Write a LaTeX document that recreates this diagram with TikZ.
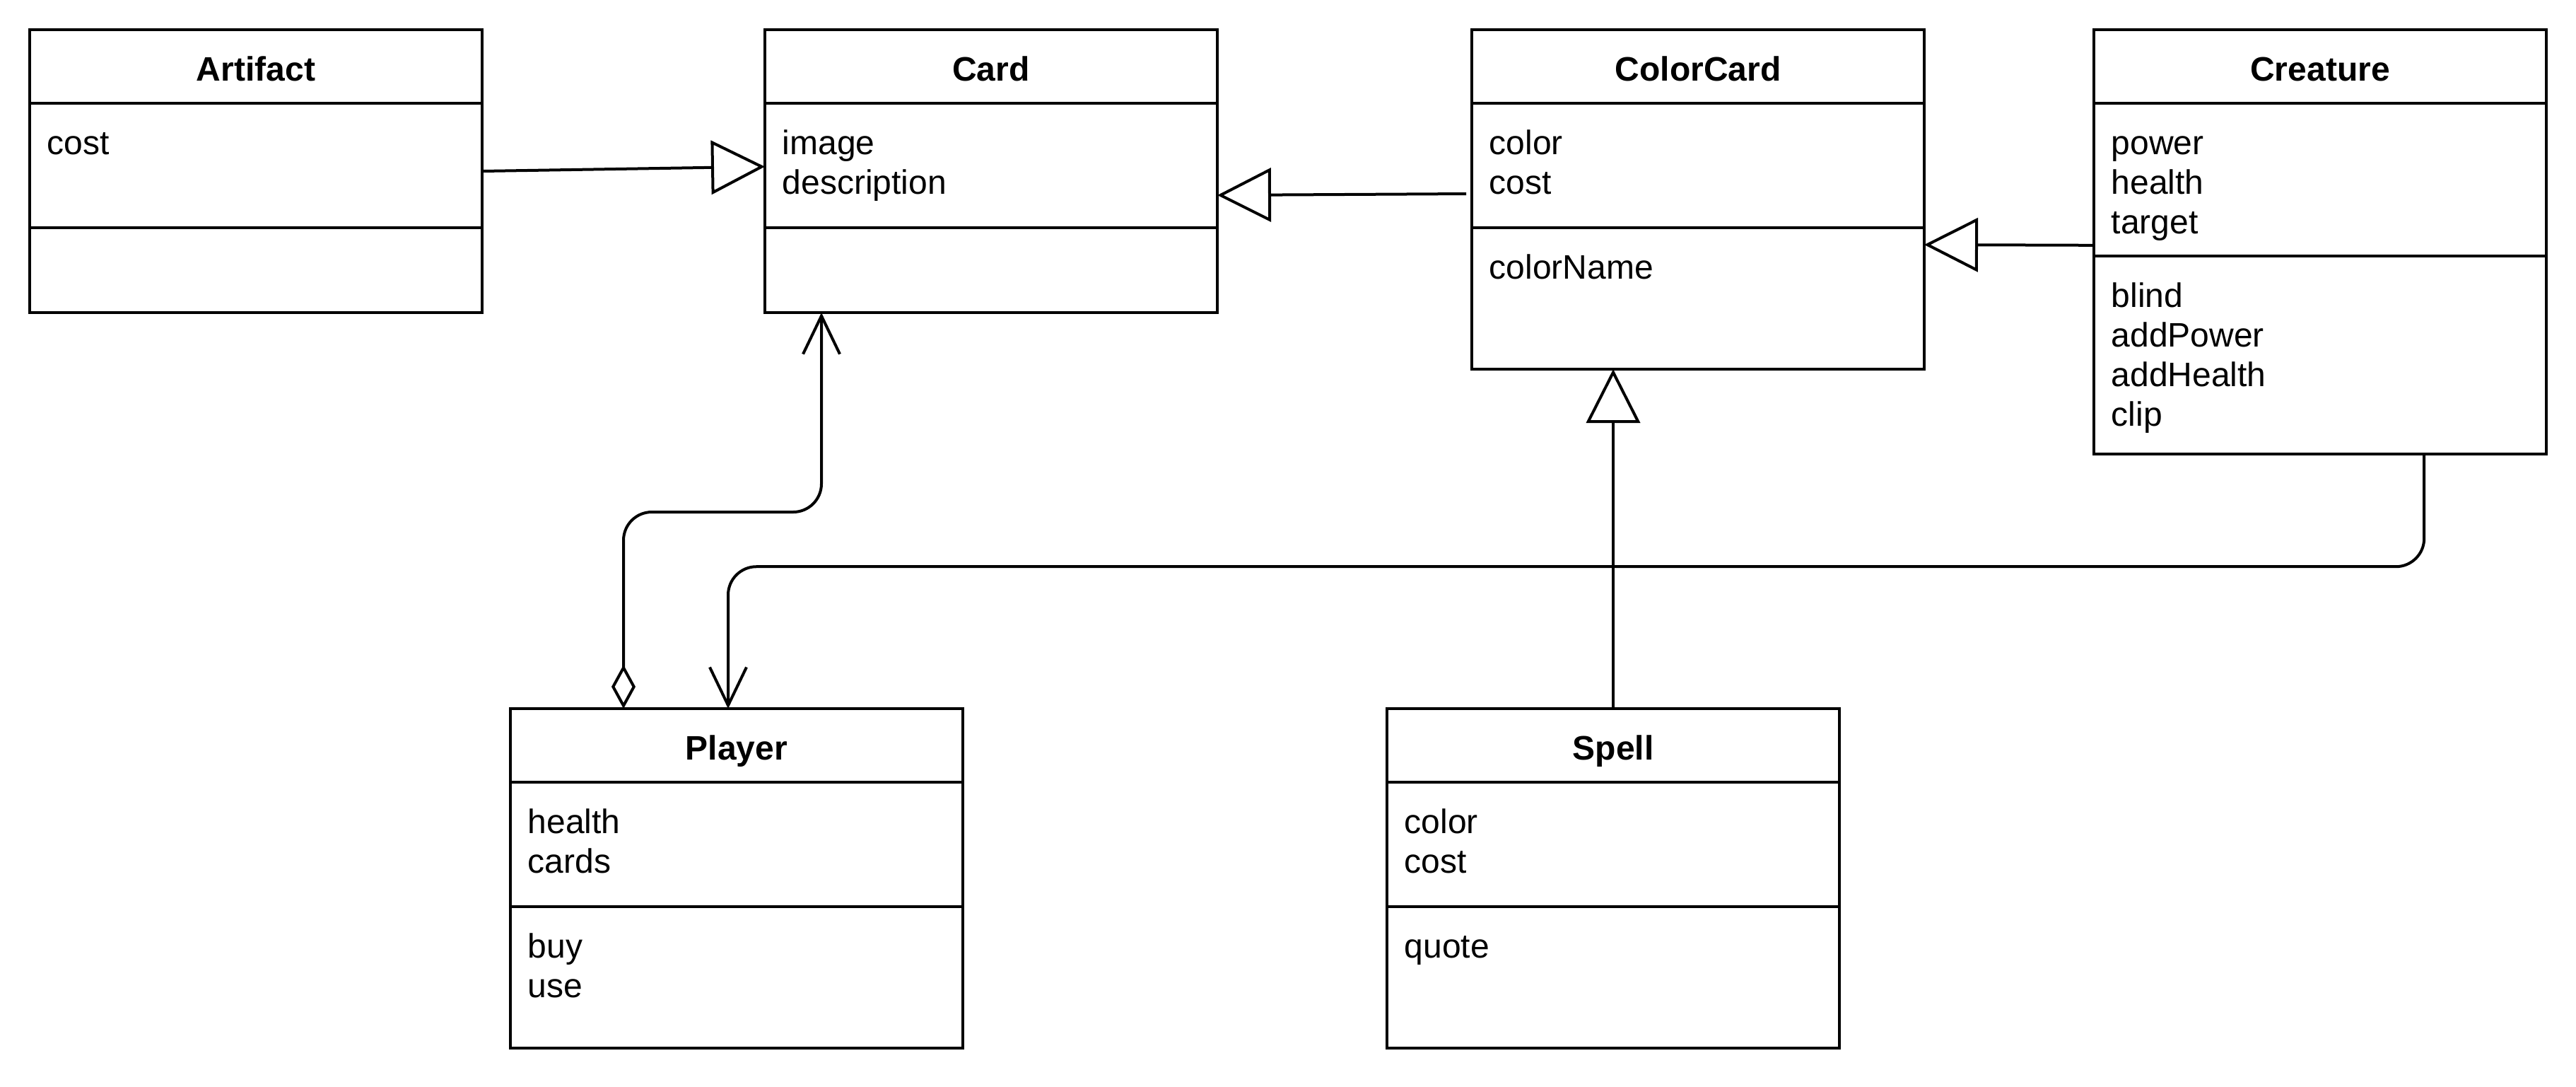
\documentclass[tikz,border=0pt]{standalone}
\usepackage{fontspec}
\setmainfont{Liberation Sans}
\usetikzlibrary{arrows.meta}
\begin{document}
\begin{tikzpicture}[x=1pt,y=-1pt,
  cls/.style={draw, line width=1pt, rectangle, inner sep=0pt, outer sep=0pt, minimum width=160pt, anchor=north west},
  hdr/.style={font=\bfseries\fontsize{12pt}{14pt}\selectfont, anchor=base, inner sep=0pt},
  txt/.style={font=\fontsize{12pt}{14pt}\selectfont, anchor=base west, inner sep=0pt},
  divline/.style={line width=1pt},
  gen/.style={line width=1pt, -{Triangle[open,length=19pt,width=19pt]}},
  conn/.style={line width=1pt, rounded corners=10pt}]
\useasboundingbox (0,0) rectangle (911,384);

% ---- class boxes ----
\node[cls, minimum height=100pt] (art) at (10.5,10.5) {};
\node[cls, minimum height=100pt] (card) at (270.5,10.5) {};
\node[cls, minimum height=120pt] (cc) at (520.5,10.5) {};
\node[cls, minimum height=150pt] (cr) at (740.5,10.5) {};
\node[cls, minimum height=120pt] (pl) at (180.5,250.5) {};
\node[cls, minimum height=120pt] (sp) at (490.5,250.5) {};

% ---- compartment lines ----
\draw[divline] ([yshift=-26pt]art.north west) -- ([yshift=-26pt]art.north east);
\draw[divline] ([yshift=-70pt]art.north west) -- ([yshift=-70pt]art.north east);
\draw[divline] ([yshift=-26pt]card.north west) -- ([yshift=-26pt]card.north east);
\draw[divline] ([yshift=-70pt]card.north west) -- ([yshift=-70pt]card.north east);
\draw[divline] ([yshift=-26pt]cc.north west) -- ([yshift=-26pt]cc.north east);
\draw[divline] ([yshift=-70pt]cc.north west) -- ([yshift=-70pt]cc.north east);
\draw[divline] ([yshift=-26pt]cr.north west) -- ([yshift=-26pt]cr.north east);
\draw[divline] ([yshift=-80pt]cr.north west) -- ([yshift=-80pt]cr.north east);
\draw[divline] ([yshift=-26pt]pl.north west) -- ([yshift=-26pt]pl.north east);
\draw[divline] ([yshift=-70pt]pl.north west) -- ([yshift=-70pt]pl.north east);
\draw[divline] ([yshift=-26pt]sp.north west) -- ([yshift=-26pt]sp.north east);
\draw[divline] ([yshift=-70pt]sp.north west) -- ([yshift=-70pt]sp.north east);

% ---- headers ----
\node[hdr] (art-h) at ([yshift=-18pt]art.north) {Artifact};
\node[hdr] (card-h) at ([yshift=-18pt]card.north) {Card};
\node[hdr] (cc-h) at ([yshift=-18pt]cc.north) {ColorCard};
\node[hdr] (cr-h) at ([yshift=-18pt]cr.north) {Creature};
\node[hdr] (pl-h) at ([yshift=-18pt]pl.north) {Player};
\node[hdr] (sp-h) at ([yshift=-18pt]sp.north) {Spell};

% ---- members ----
\node[txt] (art-a1) at ([xshift=6pt,yshift=-44pt]art.north west) {cost};

\node[txt] (card-a1) at ([xshift=6pt,yshift=-44pt]card.north west) {image};
\node[txt] (card-a2) at ([xshift=6pt,yshift=-58pt]card.north west) {description};

\node[txt] (cc-a1) at ([xshift=6pt,yshift=-44pt]cc.north west) {color};
\node[txt] (cc-a2) at ([xshift=6pt,yshift=-58pt]cc.north west) {cost};
\node[txt] (cc-m1) at ([xshift=6pt,yshift=-88pt]cc.north west) {colorName};

\node[txt] (cr-a1) at ([xshift=6pt,yshift=-44pt]cr.north west) {power};
\node[txt] (cr-a2) at ([xshift=6pt,yshift=-58pt]cr.north west) {health};
\node[txt] (cr-a3) at ([xshift=6pt,yshift=-72pt]cr.north west) {target};
\node[txt] (cr-m1) at ([xshift=6pt,yshift=-98pt]cr.north west) {blind};
\node[txt] (cr-m2) at ([xshift=6pt,yshift=-112pt]cr.north west) {addPower};
\node[txt] (cr-m3) at ([xshift=6pt,yshift=-126pt]cr.north west) {addHealth};
\node[txt] (cr-m4) at ([xshift=6pt,yshift=-140pt]cr.north west) {clip};

\node[txt] (pl-a1) at ([xshift=6pt,yshift=-44pt]pl.north west) {health};
\node[txt] (pl-a2) at ([xshift=6pt,yshift=-58pt]pl.north west) {cards};
\node[txt] (pl-m1) at ([xshift=6pt,yshift=-88pt]pl.north west) {buy};
\node[txt] (pl-m2) at ([xshift=6pt,yshift=-102pt]pl.north west) {use};

\node[txt] (sp-a1) at ([xshift=6pt,yshift=-44pt]sp.north west) {color};
\node[txt] (sp-a2) at ([xshift=6pt,yshift=-58pt]sp.north west) {cost};
\node[txt] (sp-m1) at ([xshift=6pt,yshift=-88pt]sp.north west) {quote};

% ---- connectors ----
\draw[gen] (art.east) -- ([yshift=1.6pt]card.west);
\draw[gen] ([xshift=-2pt,yshift=2pt]cc.west) -- ([yshift=-8.5pt]card.east);
\draw[gen] ([yshift=-1.2pt]cr.west) -- ([yshift=-16pt]cc.east);
\draw[gen] (sp.north) -- (sp.north |- cc.south);
\draw[conn, {Diamond[open,length=15.5pt,width=8.5pt]}-{Straight Barb[length=13.5pt,width=13pt]}]
  ([xshift=40pt]pl.north west) -- ++(0,-69.5) -| ([xshift=20pt]card.south west);
\draw[conn, -{Straight Barb[length=13.5pt,width=13pt]}]
  ([xshift=116.8pt]cr.south west) -- ++(0,39.8) -| ([xshift=77pt]pl.north west);
\end{tikzpicture}
\end{document}
